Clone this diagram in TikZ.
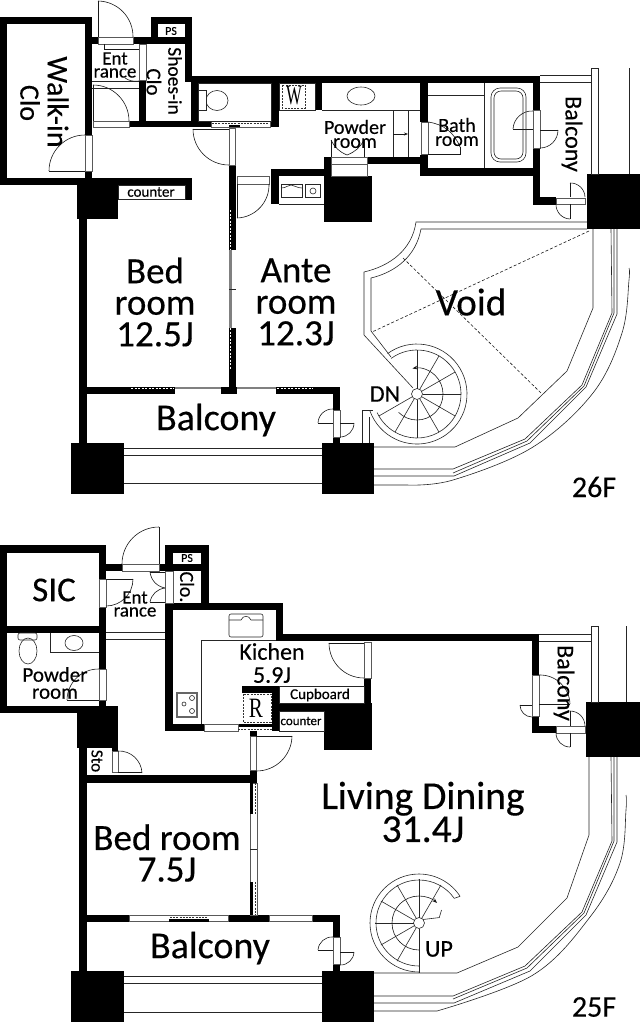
\documentclass[tikz,border=0pt]{standalone}
\usepackage{fontspec}
\setmainfont{Carlito}[FakeBold=0.35]
\newfontfamily\serifletter{Liberation Serif}
\usetikzlibrary{arrows.meta}
\tikzset{
  wall/.style={fill=black},
  thin line/.style={draw=black!85,line width=0.6pt},
  jamb/.style={fill=white,draw=black!65,line width=0.5pt},
  door/.style={draw=black!90,line width=0.6pt},
  void line/.style={draw=black!90,line width=0.6pt,dash pattern=on 3pt off 2pt},
  screen/.style={draw=black!80,line width=0.7pt,dash pattern=on 2pt off 1.2pt},
  slit/.style={draw=white,line width=1.6pt,dash pattern=on 2pt off 1.5pt},
  label base/.style={inner sep=0pt,align=center,text=black},
  huge text/.style={label base,font=\fontsize{37}{31.5}\selectfont},
  mid text/.style={label base,font=\fontsize{24}{23}\selectfont},
  small text/.style={label base,font=\fontsize{20}{14}\selectfont},
  tiny text/.style={label base,font=\fontsize{15}{14}\selectfont},
}
\newcommand{\spiralspokes}[1]{\foreach \a in {#1} \draw [thin line] (\a:5.5pt) -- (\a:44pt);}
\begin{document}
\begin{tikzpicture} [x=1pt,y=-1pt]
    \useasboundingbox (0,0) rectangle (640,1029);

    % 26F walls
    \fill [wall] (0,17) rectangle (92,24);
    \fill [wall] (0,17) rectangle (7,185);
    \fill [wall] (0,178) rectangle (192,185);
    \fill [wall] (85,17) rectangle (92,135);
    \fill [wall] (85,171) rectangle (92,178);
    \fill [wall] (92,37) rectangle (98,44);
    \fill [wall] (133,37) rectangle (192,44);
    \fill [wall] (151,17) rectangle (192,24);
    \fill [wall] (151,17) rectangle (158,44);
    \fill [wall] (185,17) rectangle (192,82);
    \fill [wall] (139,80) rectangle (146,127);
    \fill [wall] (191,76) rectangle (198,127);
    \fill [wall] (129,121) rectangle (279,127);
    \fill [wall] (191,76) rectangle (540,83);
    \fill [wall] (271,83) rectangle (279,127);
    \fill [wall] (315,83) rectangle (322,110);
    \fill [wall] (420,83) rectangle (428,122);
    \fill [wall] (420,155) rectangle (428,176);
    \fill [wall] (420,168) rectangle (540,176);
    \fill [wall] (533,76) rectangle (540,110);
    \fill [wall] (533,148) rectangle (540,205);
    \fill [wall] (533,197) rectangle (556,205);
    \fill [wall] (367,157) rectangle (420,164);
    \fill [wall] (324,157) rectangle (331,176);
    \fill [wall] (324,176) rectangle (372,222);
    \fill [wall] (271,169) rectangle (331,176);
    \fill [wall] (271,169) rectangle (279,204);
    \fill [wall] (229,165) rectangle (236,387);
    \fill [wall] (185,185) rectangle (192,200);
    \fill [wall] (77,178) rectangle (118,219);
    \fill [wall] (79,219) rectangle (87,450);
    \fill [wall] (79,387) rectangle (175,393.5);
    \fill [wall] (221,387) rectangle (237,394);
    \fill [wall] (276,387) rectangle (340,393.5);
    \fill [wall] (333,394) rectangle (340,410);
    \fill [wall] (333,437) rectangle (340,443);
    \fill [wall] (587,174) rectangle (640,229);
    \fill [wall] (71,443) rectangle (124,494);
    \fill [wall] (322,443) rectangle (374,494);

    % 26F door frames and fittings
    \draw [jamb] (85,135) rectangle (92,171);
    \draw [jamb] (98,37) rectangle (133,44);
    \draw [jamb] (139,44) rectangle (146,80);
    \draw [jamb] (93,121) rectangle (129,127);
    \draw [jamb] (229,128) rectangle (235,165);
    \draw [jamb] (237,176) rectangle (269,184);
    \draw [jamb] (421,122) rectangle (428,154);
    \draw [jamb] (533,110) rectangle (540,148);
    \draw [jamb] (556,198) rectangle (585,204);
    \draw [jamb] (331,164) rectangle (367,176);
    \draw [jamb] (331,157) rectangle (367,164);
    \draw [jamb] (333,410) rectangle (340,437);
    \draw [jamb] (211,121) rectangle (270,127);
    \draw [screen] (212,123) -- (269,123);
    \fill [wall] (229,125) rectangle (240,127);
    \fill [black!50] (229,250) rectangle (232,328);
    \fill [white] (232,250) rectangle (236,328);
    \draw [thin line] (229,289) -- (236,289);
    \draw [slit] (230.5,210) -- (230.5,250);
    \draw [slit] (230.5,328) -- (230.5,370);
    \fill [black!50] (175,387) rectangle (221,389);
    \fill [white] (175,389) rectangle (221,393);
    \fill [black!50] (237,387) rectangle (276,389);
    \fill [white] (237,389) rectangle (276,393);
    \draw [slit] (131,388.5) -- (174,388.5);
    \draw [slit] (277,388.5) -- (313,388.5);
    \draw [thin line,fill=white] (118,185) rectangle (185,199);

    \draw [door] (49,171) -- (85,171);
    \draw [door] (49,171) to [bend left=45] (85,135);
    \draw [door] (98,37) -- (98,1);
    \draw [door] (98,1) to [bend left=45] (133,37);
    \draw [door] (93,121) -- (93,85);
    \draw [door] (93,85) to [bend left=45] (129,121);
    \draw [door] (125,78) to [bend right=20] (139,81);
    \draw [door] (104,44) -- (104,49) -- (139,49);
    \draw [thin line] (92,81) -- (139,81);
    \draw [thin line] (92,88) -- (139,88);
    \draw [door] (193,129) -- (229,129);
    \draw [door] (193,129) to [bend right=45] (229,165);
    \draw [door] (237,184) -- (237,218);
    \draw [door] (237,218) to [bend right=45] (269,184);
    \draw [door] (428,154) -- (460,154) -- (460,147);
    \draw [door] (428,122) to [bend left=30] (460,147);
    \draw [door] (513,129) -- (533,129);
    \draw [door] (513,129) to [bend left=45] (533,111);
    \draw [door] (540,130) -- (558,130);
    \draw [door] (558,130) to [bend left=45] (540,148);
    \draw [door] (570,197) -- (570,183);
    \draw [door] (570,183) to [bend left=45] (585,197);
    \draw [door] (570,219) -- (570,204);
    \draw [door] (570,219) to [bend left=45] (556,204);
    \draw [door] (318,423) -- (333,423);
    \draw [door] (318,423) to [bend left=45] (333,409);
    \draw [door] (340,423) -- (354,423);
    \draw [door] (354,423) to [bend left=45] (340,437);
    \draw [door] (331,157) -- (331,140);
    \draw [door] (364,157) -- (364,140);
    \draw [door] (331,140) to [bend right=20] (347,155);
    \draw [door] (364,140) to [bend left=20] (347,155);

    \draw [thin line] (198,83) rectangle (271,121);
    \draw [thin line] (217,100.5) ellipse [x radius=11pt,y radius=10pt];
    \draw [thin line,fill=white] (198,90) rectangle (206,110);
    \draw [thin line] (279,83) rectangle (315,110);
    \draw [thin line] (322,110) -- (420,110);
    \draw [thin line] (361,96) ellipse [x radius=14pt,y radius=9pt];
    \draw [thin line] (393,110) -- (393,157);
    \draw [thin line] (408,110) -- (408,157);
    \draw [door,-{Stealth[length=4pt]}] (393,134) -- (408,134);
    \draw [thin line] (428,95) -- (484,95);
    \draw [thin line] (484,83) -- (484,168);
    \draw [thin line,rounded corners=9pt] (491,88) rectangle (526,162);
    \draw [thin line,rounded corners=7pt] (494,91) rectangle (523,159);
    \draw [thin line] (540,75) -- (591,75);
    \draw [thin line] (540,82) -- (591,82);
    \draw [thin line,fill=white] (591,68) rectangle (598,174);
    \draw [thin line] (629,68) -- (629,174);
    \draw [thin line] (281,184) rectangle (302,197);
    \draw [thin line] (281,188) .. controls (287,188) and (287,185) .. (291,185) .. controls (295,185) and (296,188) .. (302,188);
    \draw [thin line] (305,184) rectangle (320,197);
    \draw [thin line] (313,191) circle [radius=3pt];
    \draw [thin line] (279,204) -- (324,204);
    \draw [screen] (282,85) rectangle (305,108);
    \draw [thin line] (124,448) -- (322,448);
    \draw [thin line] (124,455) -- (322,455);
    \draw [thin line] (124,483) -- (322,483);

    % 26F void and round balcony
    \draw [thin line] (587,222) -- (416,222) .. controls (412,250) and (390,266) .. (364,272) -- (364,335) -- (413,388);
    \draw [thin line] (587,229) -- (421,229) .. controls (416,256) and (396,272) .. (371,278) -- (371,331) -- (391,357);
    \draw [thin line] (374,447) -- (455,447) -- (518,418) -- (542,395) -- (567,371) -- (593,308) -- (593,229);
    \draw [void line] (589,231) -- (372,332);
    \draw [void line] (403,258) -- (541,393);
    \draw [thin line] (374,469) -- (453,469) -- (525,439) -- (582,385) -- (612,313) -- (611,229);
    \draw [thin line] (374,476) -- (454,476) -- (530,443) -- (586,387) -- (617,314) -- (617,229);
    \draw [thin line] (453,473) -- (527,441) -- (584,386) -- (614,313) -- (614,229);
    \draw [thin line] (374,485) -- (407,485) plot [smooth,tension=0.6] coordinates {(407,485) (453,480) (533,447) (593,393) (622,333) (629,280) (629,268)};
    \draw [thin line] (362,443) -- (362,410) -- (373,410);
    \draw [thin line] (369,443) -- (369,417);
    \begin{scope} [shift={(417,394)}]
      \draw [thin line] (0,0) circle [radius=5.5pt];
      \spiralspokes{90,60,30,0,-30,-60,-90,-120,-150}
      \draw [thin line] (126:50pt) arc [start angle=126,end angle=-160,radius=50pt];
      \draw [thin line] (126:44pt) arc [start angle=126,end angle=-155,radius=44pt];
      \draw [door,-{Stealth[length=5pt]}] (-135:26pt) arc [start angle=-135,end angle=100,radius=26pt];
    \end{scope}

    % 25F walls
    \fill [wall] (0,545) rectangle (106,553);
    \fill [wall] (0,545) rectangle (7,713);
    \fill [wall] (99,545) rectangle (106,579);
    \fill [wall] (0,626) rectangle (106,633);
    \fill [wall] (99,607) rectangle (106,669);
    \fill [wall] (99,700) rectangle (106,713);
    \fill [wall] (0,706) rectangle (118,713);
    \fill [wall] (106,564) rectangle (122,571);
    \fill [wall] (159,564) rectangle (209,571);
    \fill [wall] (165,545) rectangle (209,553);
    \fill [wall] (165,545) rectangle (173,571);
    \fill [wall] (201,545) rectangle (209,610);
    \fill [wall] (165,603) rectangle (283,610);
    \fill [wall] (165,603) rectangle (173,731);
    \fill [wall] (276,603) rectangle (283,641);
    \fill [wall] (276,634) rectangle (539,641);
    \fill [wall] (532,634) rectangle (539,675);
    \fill [wall] (532,716) rectangle (539,733);
    \fill [wall] (532,726) rectangle (556,733);
    \fill [wall] (364,678) rectangle (371,703);
    \fill [wall] (324,703) rectangle (372,750);
    \fill [wall] (279,703) rectangle (324,711);
    \fill [wall] (242,686) rectangle (279,693);
    \fill [wall] (272,686) rectangle (279,731);
    \fill [wall] (165,724) rectangle (204,731);
    \fill [wall] (238,724) rectangle (272,727);
    \fill [wall] (250,731) rectangle (257,736);
    \fill [wall] (250,770) rectangle (257,782);
    \fill [wall] (77,706) rectangle (118,748);
    \fill [wall] (112,748) rectangle (118,751);
    \fill [wall] (79,748) rectangle (87,975);
    \fill [wall] (79,775) rectangle (257,783);
    \fill [wall] (79,915) rectangle (129,922);
    \fill [wall] (228,915) rectangle (269,922);
    \fill [wall] (312,915) rectangle (340,922);
    \fill [wall] (333,922) rectangle (340,937);
    \fill [wall] (333,964) rectangle (340,971);
    \fill [wall] (586,702) rectangle (640,757);
    \fill [wall] (71,971) rectangle (124,1022);
    \fill [wall] (322,971) rectangle (374,1022);

    % 25F door frames and fittings
    \draw [jamb] (99,579) rectangle (106,607);
    \draw [jamb] (99,669) rectangle (106,700);
    \draw [jamb] (122,564) rectangle (159,571);
    \draw [jamb] (165,571) rectangle (173,603);
    \draw [jamb] (112,751) rectangle (118,772);
    \draw [jamb] (204,724) rectangle (238,731);
    \draw [jamb] (250,736) rectangle (256,770);
    \draw [jamb] (364,642) rectangle (371,678);
    \draw [jamb] (532,675) rectangle (539,716);
    \draw [jamb] (556,726) rectangle (585,733);
    \draw [jamb] (333,937) rectangle (340,964);
    \draw [jamb] (250,783) rectangle (257,915);
    \fill [wall] (250,783) rectangle (252.5,814);
    \fill [wall] (250,882) rectangle (252.5,915);
    \draw [screen] (255,783) -- (255,814);
    \draw [screen] (255,882) -- (255,915);
    \draw [thin line] (250,849) -- (257,849);
    \draw [jamb] (129,915) rectangle (228,921);
    \fill [wall] (169,919) rectangle (209,922);
    \draw [screen] (170,917) -- (208,917);
    \draw [jamb] (269,915) rectangle (312,921);
    \draw [thin line,fill=white] (279,686) rectangle (364,703);
    \draw [thin line,fill=white] (279,711) rectangle (324,731);

    \draw [door] (159,564) -- (159,527);
    \draw [door] (159,527) to [bend right=45] (122,564);
    \draw [door] (106,579) -- (133,579);
    \draw [door] (133,579) to [bend left=45] (106,606);
    \draw [door] (150,572) -- (165,572);
    \draw [door] (150,572) to [bend right=35] (165,588);
    \draw [door] (150,602) -- (165,602);
    \draw [door] (150,602) to [bend left=35] (165,588);
    \draw [door] (67,700) -- (99,700);
    \draw [door] (67,700) to [bend left=45] (99,669);
    \draw [door] (118,772) -- (142,772);
    \draw [door] (118,751) to [bend left=45] (142,773);
    \draw [door] (256,736) -- (292,736);
    \draw [door] (292,736) to [bend left=45] (256,771);
    \draw [door] (329,643) -- (364,643);
    \draw [door] (329,643) to [bend right=45] (364,678);
    \draw [door] (539,675) to [bend left=45] (570,704);
    \draw [door] (539,704) -- (570,704);
    \draw [door] (520,705) -- (532,705);
    \draw [door] (520,705) to [bend right=45] (532,717);
    \draw [door] (570,726) -- (570,711);
    \draw [door] (570,711) to [bend left=45] (585,726);
    \draw [door] (570,747) -- (570,733);
    \draw [door] (570,747) to [bend left=45] (556,733);
    \draw [door] (318,950) -- (333,950);
    \draw [door] (318,950) to [bend left=45] (333,937);
    \draw [door] (340,952) -- (354,952);
    \draw [door] (354,952) to [bend left=45] (340,965);

    \draw [thin line] (106,632) -- (165,632);
    \draw [thin line] (106,639) -- (165,639);
    \draw [thin line,rounded corners=2pt] (18,633) rectangle (37,640);
    \draw [thin line] (28,651) ellipse [x radius=9pt,y radius=13pt];
    \draw [thin line] (50,633) -- (50,652) -- (99,652);
    \draw [thin line] (74,643) ellipse [x radius=9pt,y radius=7.5pt];
    \draw [thin line] (201,724) -- (201,640) -- (276,640);
    \draw [thin line,rounded corners=2pt] (229,614) rectangle (263,637);
    \draw [thin line] (229,620) -- (241,620) .. controls (243,615) and (249,615) .. (251,620) -- (263,620);
    \draw [draw=black!60,line width=1.6pt,fill=white] (177,693) rectangle (197,717);
    \draw [thin line] (192,698) circle [radius=2.5pt];
    \draw [thin line] (184,704) circle [radius=2pt];
    \draw [thin line] (192,711) circle [radius=2.5pt];
    \draw [screen] (243,694) rectangle (271,722);
    \draw [screen] (238,729) -- (272,729);
    \draw [thin line] (539,634) -- (591,634);
    \draw [thin line] (539,641) -- (591,641);
    \draw [thin line,fill=white] (591,626) rectangle (598,702);
    \draw [thin line] (626,626) -- (626,702);
    \draw [thin line] (124,976) -- (322,976);
    \draw [thin line] (124,983) -- (322,983);
    \draw [thin line] (124,1012) -- (322,1012);

    % 25F round balcony
    \draw [thin line] (374,973) -- (457,973) -- (518,947) -- (567,898) -- (589,835) -- (589,757);
    \draw [thin line] (374,996) -- (453,996) -- (525,966) -- (582,912) -- (612,841) -- (611,757);
    \draw [thin line] (374,1003) -- (454,1003) -- (530,971) -- (586,915) -- (617,842) -- (617,757);
    \draw [thin line] (453,999) -- (527,968) -- (584,913) -- (614,841) -- (614,757);
    \draw [thin line] (374,1011) -- (437,1011) plot [smooth,tension=0.6] coordinates {(437,1011) (533,975) (590,917) (620,863) (626,810) (626,795)};
    \begin{scope} [shift={(419,923)}]
      \draw [thin line] (0,0) circle [radius=5.5pt];
      \spiralspokes{180,150,120,90,60,-150,-120}
      \draw [thin line] (-90:5.5pt) -- (-90:50pt);
      \draw [thin line] (-90:49pt) arc [start angle=-90,end angle=-327,radius=49pt];
      \draw [thin line] (-90:43pt) arc [start angle=-90,end angle=-325,radius=43pt];
      \draw [thin line] (33:49pt) -- (35:43pt);
      \draw [door,-{Stealth[length=5pt]}] (-90:27pt) arc [start angle=-90,end angle=-312,radius=27pt];
      \draw [thin line] (40:5.5pt) -- (15:21pt) -- (30:26pt);
    \end{scope}

    % labels
    \path node (walkin) at (58,102) [rotate=-90,label base,font=\fontsize{30}{30}\selectfont] {Walk-in}
          node (walkinclo) at (30,103) [rotate=-90,label base,font=\fontsize{28}{28}\selectfont] {Clo}
          node (entupper) at (115,65) [small text,font=\fontsize{19}{13}\selectfont] {Ent\\rance}
          node (psupper) at (171,31) [tiny text,font=\fontsize{12}{12}\selectfont] {PS}
          node (shoes) at (175,81) [rotate=-90,small text,font=\fontsize{19.5}{19.5}\selectfont] {Shoes-in}
          node (shoesclo) at (154,82) [rotate=-90,small text,font=\fontsize{21}{21}\selectfont] {Clo}
          node (counterupper) at (151,192) [tiny text] {counter}
          node (bedupper) at (155,302) [huge text] {Bed\\room\\12.5J}
          node (ante) at (296,302) [huge text] {Ante\\room\\12.3J}
          node (void) at (471,302) [label base,font=\fontsize{39}{39}\selectfont] {Void}
          node (balconybig) at (216,420) [label base,font=\fontsize{38}{38}\selectfont] {Balcony}
          node (powderupper) at (355,134) [small text] {Powder\\room}
          node (bath) at (457,132) [small text] {Bath\\room}
          node (balconyside) at (572,134) [rotate=-90,mid text] {Balcony}
          node (dn) at (385,394) [mid text] {DN}
          node (floorupper) at (594,487) [label base,font=\fontsize{30}{30}\selectfont] {26F}
          node (washer) at (294,96) [xscale=0.6,label base,font=\serifletter\fontsize{28}{28}\selectfont] {W};
    \path node (sic) at (54,590) [label base,font=\fontsize{35}{35}\selectfont] {SIC}
          node (entlower) at (135,604) [small text,font=\fontsize{19}{13}\selectfont] {Ent\\rance}
          node (pslower) at (187,558) [tiny text,font=\fontsize{12}{12}\selectfont] {PS}
          node (clolower) at (187,587) [rotate=-90,small text] {Clo.}
          node (powderlower) at (55,683) [small text,font=\fontsize{21}{17}\selectfont] {Powder\\room}
          node (sto) at (97,761) [rotate=-90,small text,font=\fontsize{17}{17}\selectfont] {Sto}
          node (kitchen) at (272,663) [mid text] {Kichen\\5.9J}
          node (cupboard) at (320,695) [tiny text] {Cupboard}
          node (counterlower) at (301,721) [tiny text,font=\fontsize{13}{13}\selectfont] {counter}
          node (ref) at (256,708) [xscale=0.75,label base,font=\serifletter\fontsize{28}{28}\selectfont] {R}
          node (bedlower) at (167,853) [huge text] {Bed room\\7.5J}
          node (balconylower) at (210,948) [label base,font=\fontsize{38}{38}\selectfont] {Balcony}
          node (living) at (423,812) [huge text,font=\fontsize{39.5}{33}\selectfont] {Living Dining\\31.4J}
          node (sidelower) at (564,683) [rotate=-90,mid text] {Balcony}
          node (up) at (439,949) [mid text] {UP}
          node (floorlower) at (594,1007) [label base,font=\fontsize{30}{30}\selectfont] {25F};
 \end{tikzpicture}
\end{document}
